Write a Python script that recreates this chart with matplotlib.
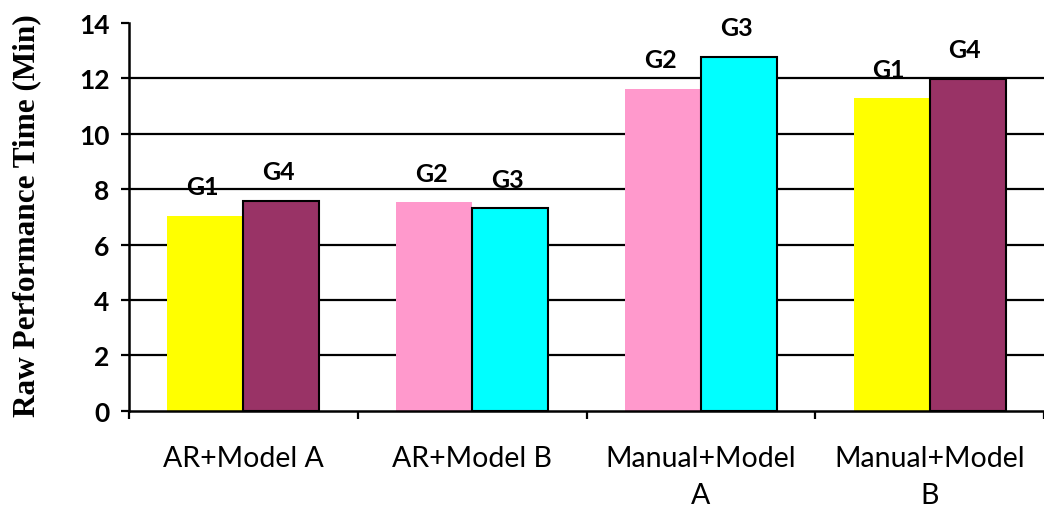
import matplotlib
matplotlib.use("Agg")
import matplotlib.pyplot as plt
import numpy as np

categories = ["AR+Model A", "AR+Model B", "Manual+Model\nA", "Manual+Model\nB"]
left_groups = ["G1", "G2", "G2", "G1"]
left_values = [7.04, 7.52, 11.62, 11.28]
right_groups = ["G4", "G3", "G3", "G4"]
right_values = [7.58, 7.31, 12.79, 11.98]
y_ticks = [0, 2, 4, 6, 8, 10, 12, 14]

group_colors = {"G1": "#FFFF00", "G2": "#FF99CC", "G3": "#00FFFF", "G4": "#993366"}
group_edges = {"G1": "none", "G2": "none", "G3": "black", "G4": "black"}

W, H = 1044, 510
fig = plt.figure(figsize=(W / 100, H / 100), dpi=100)
left_px, right_px, top_px, bottom_px = 129, 1044, 24, 411.7
ax = fig.add_axes([left_px / W, 1 - bottom_px / H, (right_px - left_px) / W, (bottom_px - top_px) / H])

step_px = 232.3
x = np.arange(len(categories))
ax.set_xlim(-0.5, -0.5 + (right_px - left_px) / step_px)
ax.set_ylim(0, 14)

# horizontal grid lines between the axis ends
ax.hlines(y_ticks[1:-1], -0.5, len(categories) + 0.5, colors="black", linewidth=1.6, zorder=1)

bw = 0.332
label_kw = dict(textcoords="offset points", ha="center", va="center",
                fontsize=18, fontweight="bold", family="Lato")
for xi, g, v in zip(x, left_groups, left_values):
    ax.bar(xi - bw / 2, v, bw, color=group_colors[g], edgecolor=group_edges[g], linewidth=1.5, zorder=2)
    ax.annotate(g, (xi - bw / 2, v), xytext=(-2, 21), **label_kw)
for xi, g, v in zip(x, right_groups, right_values):
    ax.bar(xi + bw / 2, v, bw, color=group_colors[g], edgecolor=group_edges[g], linewidth=1.5, zorder=2)
    ax.annotate(g, (xi + bw / 2, v), xytext=(-2, 21), **label_kw)

for s in ["top", "right"]:
    ax.spines[s].set_visible(False)
for s in ["left", "bottom"]:
    ax.spines[s].set_linewidth(1.8)
    ax.spines[s].set_zorder(3)

ax.set_yticks(y_ticks)
ax.set_yticklabels([str(t) for t in y_ticks], fontsize=19, fontweight="bold", family="Lato")
ax.tick_params(axis="y", direction="out", length=6, width=1.6, pad=8)

ax.set_xticks(np.arange(-0.5, len(categories) + 0.5, 1.0))
ax.set_xticklabels([])
ax.tick_params(axis="x", which="major", direction="out", length=6, width=1.6)
ax.set_xticks(x, minor=True)
ax.set_xticklabels(categories, minor=True, fontsize=20.5, family="Lato", linespacing=1.5)
ax.tick_params(axis="x", which="minor", length=0, pad=25)

fig.text(27 / W, 1 - 216 / H, "Raw Performance Time (Min)", rotation=90, ha="center", va="center",
         fontsize=22.5, fontweight="bold", family="Liberation Serif")

fig.savefig("out.png", dpi=100)
